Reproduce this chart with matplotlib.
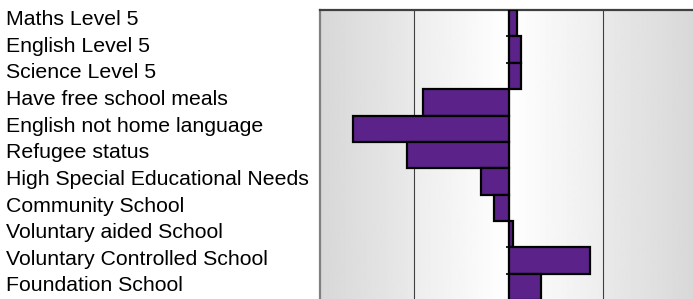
import numpy as np
import matplotlib.pyplot as plt
from matplotlib import transforms

# categories, top to bottom
labels = ['Maths Level 5', 'English Level 5', 'Science Level 5',
          'Have free school meals', 'English not home language',
          'Refugee status', 'High Special Educational Needs',
          'Community School', 'Voluntary aided School',
          'Voluntary Controlled School', 'Foundation School']
values = [0.09, 0.135, 0.135, -0.91, -1.65, -1.08, -0.29, -0.15, 0.05, 0.87, 0.34]

plt.rcParams['font.family'] = ['Liberation Sans', 'DejaVu Sans']

fig = plt.figure(figsize=(6.93, 2.99), dpi=100)
ax = fig.add_axes([320 / 693, -0.004, 377 / 693, 0.9705])

n = len(labels)
y = np.arange(n)

# gradient background: white in the middle, grey toward the edges
xs = np.linspace(-2, 2, 400)
shade = 1 - 0.07 * np.abs(xs)
shade[np.abs(xs) > 1] -= 0.015
img = np.tile(shade, (2, 1))
ax.imshow(img, cmap='gray', vmin=0, vmax=1, aspect='auto',
          extent=[-2, 2, n - 0.5, -0.5], zorder=0, interpolation='bilinear')

ax.barh(y, values, height=1.0, color='#5B2289', edgecolor='black', linewidth=1.6, zorder=3)

ax.set_xlim(-2, 2)
ax.set_ylim(n - 0.5, -0.5)
ax.set_xticks([])
ax.set_yticks([])
for xg in [-1, 1]:
    ax.axvline(xg, color='#404040', lw=0.8, zorder=1)
ax.axvline(0, color='black', lw=1.5, zorder=2)

for side in ['right', 'bottom']:
    ax.spines[side].set_visible(False)
ax.spines['top'].set_color('#404040')
ax.spines['top'].set_linewidth(1.6)
ax.spines['left'].set_color('#808080')
ax.spines['left'].set_linewidth(1.6)

# category axis through zero with small outward ticks at row boundaries
sec = ax.secondary_yaxis(0.5)
sec.set_yticks(np.arange(n + 1) - 0.5)
sec.set_yticklabels([])
sec.yaxis.set_ticks_position('left')
sec.tick_params(axis='y', direction='out', length=2.5, width=1.2, color='black')
sec.spines['left'].set_linewidth(1.5)
sec.spines['right'].set_visible(False)

# category labels, left aligned at the figure edge
trans = transforms.blended_transform_factory(fig.transFigure, ax.transData)
for i, lab in enumerate(labels):
    ax.text(6.5 / 693, i * 1.01 + 0.07, lab, transform=trans, ha='left', va='baseline',
            fontsize=15.3, clip_on=False)

fig.savefig('out.png', dpi=100)
